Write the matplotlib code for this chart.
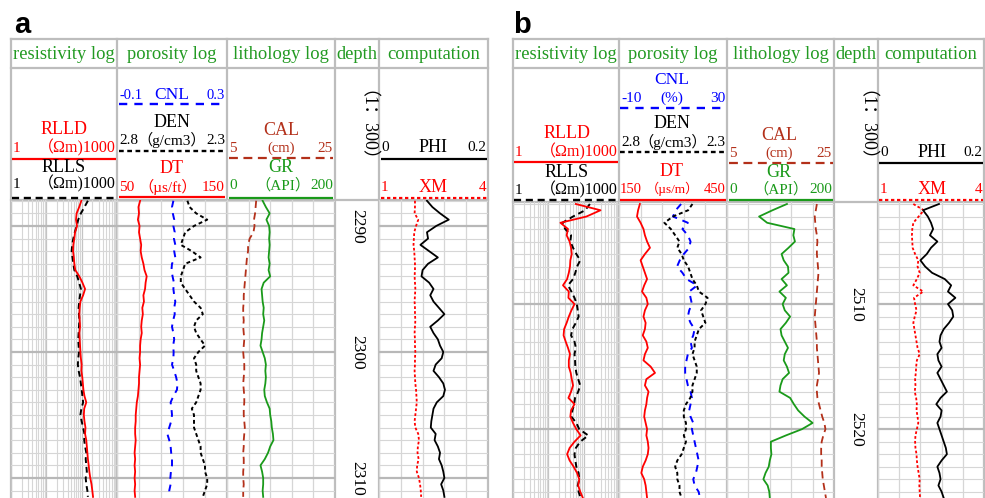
import numpy as np
import matplotlib
matplotlib.use('Agg')
import matplotlib.pyplot as plt
from matplotlib.ticker import MultipleLocator, LogLocator

plt.rcParams['font.family'] = ['Liberation Serif', 'Noto Sans CJK SC']

# ---------------- data: panel a ----------------
depth_a = np.arange(2288.0, 2311.6, 0.5)
rlld_a = [98, 85, 72, 69, 74, 65, 62, 58, 57, 60, 62, 66, 86, 105, 125, 110,
          92, 88, 86, 88, 90, 86, 88, 90, 92, 95, 100, 98, 104, 108, 112, 120,
          135, 118, 115, 120, 128, 125, 135, 140, 145, 150, 158, 165, 175, 190, 200, 210]
rlls_a = [150, 120, 95, 80, 72, 64, 58, 54, 52, 55, 58, 62, 75, 85, 95, 90,
          85, 82, 84, 86, 84, 82, 80, 82, 84, 80, 78, 82, 90, 95, 100, 105,
          110, 98, 92, 100, 110, 120, 118, 125, 135, 130, 135, 140, 130, 135, 145, 150]
dt_a = [71, 69.5, 70, 69, 70.5, 70, 71, 72, 71.5, 72.5, 74, 75, 77, 76, 75.5, 74,
        74.5, 73, 73.5, 72.5, 72, 72.5, 71.5, 71, 71, 70.5, 71, 70.5, 70, 70, 69.5, 69,
        68, 67.5, 67, 67, 66.5, 66.5, 67, 66.5, 66, 66.5, 66, 66.5, 66, 66.5, 66, 66.5]
cnl_a = [0.105, 0.100, 0.103, 0.108, 0.105, 0.110, 0.107, 0.112, 0.108, 0.112, 0.100, 0.098,
         0.102, 0.107, 0.105, 0.108, 0.112, 0.108, 0.110, 0.104, 0.100, 0.105, 0.108, 0.104,
         0.106, 0.105, 0.100, 0.108, 0.115, 0.120, 0.118, 0.105, 0.095, 0.098, 0.100, 0.097,
         0.090, 0.083, 0.090, 0.095, 0.097, 0.100, 0.100, 0.096, 0.094, 0.095, 0.090, 0.092]
den_a = [2.48, 2.47, 2.44, 2.39, 2.45, 2.49, 2.50, 2.51, 2.46, 2.42, 2.49, 2.50,
         2.51, 2.51, 2.49, 2.47, 2.45, 2.42, 2.41, 2.44, 2.45, 2.44, 2.42, 2.40,
         2.43, 2.45, 2.44, 2.44, 2.43, 2.42, 2.42, 2.43, 2.44, 2.46, 2.45, 2.45,
         2.45, 2.44, 2.43, 2.42, 2.42, 2.41, 2.40, 2.40, 2.39, 2.39, 2.40, 2.41]
cal_a = [10.4, 10.3, 10.2, 10.0, 10.1, 9.9, 9.2, 8.9, 8.9, 8.7, 8.6, 8.5,
         8.4, 8.3, 8.2, 8.1, 8.1, 8.0, 8.0, 8.1, 8.0, 8.1, 8.2, 8.1,
         8.0, 8.1, 8.2, 8.2, 8.1, 8.0, 8.1, 8.2, 8.2, 8.1, 8.1, 8.2,
         8.3, 8.2, 8.1, 8.1, 8.0, 8.1, 8.1, 8.0, 8.0, 8.1, 8.0, 8.0]
gr_a = [66, 72, 79, 73, 78, 79, 78, 79, 78, 77, 79, 77, 80, 68, 64, 65,
        66, 68, 67, 69, 67, 65, 64, 62, 66, 70, 72, 71, 72, 71, 69, 70,
        74, 79, 80, 82, 83, 85, 86, 80, 76, 70, 62, 65, 67, 67, 66, 67]
phi_a = [0.088, 0.098, 0.112, 0.128, 0.105, 0.088, 0.090, 0.076, 0.092, 0.108, 0.090, 0.080,
         0.078, 0.092, 0.100, 0.094, 0.100, 0.110, 0.120, 0.108, 0.094, 0.100, 0.108, 0.112,
         0.118, 0.115, 0.104, 0.100, 0.110, 0.118, 0.121, 0.118, 0.106, 0.100, 0.098, 0.096,
         0.095, 0.104, 0.102, 0.108, 0.112, 0.110, 0.115, 0.118, 0.120, 0.114, 0.118, 0.120]
xm_a = [1.99, 1.99, 1.98, 2.08, 2.02, 1.97, 1.96, 1.95, 1.97, 1.98, 1.99, 1.99,
        1.98, 1.99, 2.00, 1.99, 1.98, 1.99, 1.99, 2.00, 1.99, 1.98, 1.99, 1.99,
        2.00, 1.99, 1.99, 1.98, 1.99, 2.00, 2.02, 2.03, 2.04, 2.02, 2.00, 1.98,
        2.00, 2.08, 2.10, 2.07, 2.06, 2.09, 2.05, 2.04, 2.10, 2.13, 2.15, 2.16]
ticks_a = [2290, 2300, 2310]

# ---------------- data: panel b ----------------
depth_b = np.arange(2502.0, 2525.6, 0.5)
rlld_b = [60, 300, 120, 22, 36, 33, 40, 44, 46, 42, 41, 38, 34, 26, 38, 37,
          55, 45, 38, 33, 28, 27, 31, 36, 41, 38, 38, 43, 46, 50, 44, 37,
          55, 44, 42, 50, 62, 82, 55, 40, 34, 40, 52, 65, 75, 70, 80, 95]
rlls_b = [150, 110, 50, 25, 30, 44, 42, 50, 62, 80, 65, 58, 50, 36, 45, 55,
          64, 68, 72, 60, 48, 44, 55, 60, 55, 57, 58, 62, 70, 80, 70, 57,
          54, 48, 45, 62, 75, 135, 80, 60, 55, 58, 62, 72, 75, 68, 72, 82]
dt_b = [208, 203, 200, 210, 218, 222, 228, 236, 222, 210, 216, 222, 228, 220, 214, 226,
        230, 222, 218, 224, 222, 216, 226, 230, 222, 218, 238, 250, 226, 222, 232, 228,
        226, 222, 220, 224, 228, 226, 230, 232, 230, 224, 216, 212, 220, 224, 226, 228]
cnl_b = [13.0, 11.0, 10.0, 15.5, 13.5, 15.5, 16.5, 16.0, 14.0, 12.5, 11.5, 13.5,
         15.0, 19.0, 16.0, 16.5, 17.0, 16.0, 15.5, 16.5, 18.0, 17.5, 16.5, 17.0,
         15.5, 15.0, 14.5, 14.5, 15.0, 15.5, 16.5, 17.0, 16.5, 16.0, 16.5, 17.5,
         17.0, 17.5, 18.0, 18.5, 19.0, 19.5, 19.0, 18.5, 17.5, 18.0, 19.5, 20.0]
den_b = [2.46, 2.48, 2.55, 2.59, 2.56, 2.54, 2.52, 2.53, 2.51, 2.50, 2.48, 2.47,
         2.46, 2.44, 2.43, 2.39, 2.40, 2.42, 2.41, 2.40, 2.43, 2.44, 2.45, 2.45,
         2.46, 2.45, 2.44, 2.44, 2.45, 2.46, 2.46, 2.47, 2.49, 2.50, 2.50, 2.49,
         2.49, 2.50, 2.49, 2.50, 2.51, 2.53, 2.54, 2.53, 2.53, 2.52, 2.52, 2.51]
cal_b = [21.8, 21.6, 21.4, 21.5, 21.6, 21.8, 21.9, 21.8, 21.8, 21.9, 22.0, 22.1,
         22.0, 21.9, 21.8, 21.7, 21.6, 21.5, 21.4, 21.5, 21.6, 21.7, 21.8, 21.8,
         21.9, 22.0, 22.1, 22.2, 22.0, 21.8, 21.8, 21.9, 22.2, 22.5, 22.8, 23.2,
         23.4, 23.0, 22.7, 22.6, 22.6, 22.7, 22.7, 22.8, 22.9, 23.1, 23.3, 23.5]
gr_b = [112, 85, 60, 75, 126, 124, 127, 115, 102, 106, 114, 115, 102, 112, 98, 110,
        104, 108, 118, 110, 100, 102, 108, 114, 108, 106, 112, 116, 104, 100, 98, 118,
        125, 133, 145, 160, 140, 110, 82, 82, 83, 80, 78, 72, 68, 76, 79, 80]
phi_b = [0.115, 0.085, 0.094, 0.100, 0.104, 0.098, 0.112, 0.100, 0.092, 0.080, 0.089, 0.102,
         0.126, 0.138, 0.132, 0.146, 0.132, 0.140, 0.142, 0.134, 0.124, 0.118, 0.116, 0.120,
         0.112, 0.114, 0.120, 0.112, 0.118, 0.124, 0.130, 0.118, 0.110, 0.120, 0.118, 0.112,
         0.116, 0.120, 0.124, 0.128, 0.130, 0.120, 0.112, 0.116, 0.118, 0.114, 0.120, 0.124]
xm_b = [2.00, 2.30, 2.15, 2.00, 1.97, 1.96, 1.97, 1.98, 2.05, 2.14, 2.12, 2.18,
        2.10, 2.00, 2.28, 2.02, 2.05, 2.09, 2.04, 2.00, 2.03, 2.06, 2.09, 2.12,
        2.18, 2.10, 2.08, 2.07, 2.05, 2.06, 2.04, 2.08, 2.10, 2.09, 2.12, 2.14,
        2.10, 2.06, 2.05, 2.06, 2.09, 2.10, 2.12, 2.15, 2.18, 2.17, 2.18, 2.19]
ticks_b = [2510, 2520]

track_titles = ['resistivity log', 'porosity log', 'lithology log', 'depth', 'computation']

# ---------------- styles ----------------
W, H = 985, 498
GRID = '#d6d6d6'
FRAME = '#bdbdbd'
TITLE = '#229a22'
RED, BLUE, GREEN, BROWN = '#ff0000', '#0000ff', '#1a9a1a', '#b3301a'

sty = {
    'RLLD': dict(color=RED, lw=1.3),
    'RLLS': dict(color='black', lw=1.4, dashes=(3, 2)),
    'CNL': dict(color=BLUE, lw=1.4, dashes=(3.5, 3)),
    'DEN': dict(color='black', lw=1.4, dashes=(2, 1.5)),
    'DT': dict(color=RED, lw=1.3),
    'CAL': dict(color=BROWN, lw=1.3, dashes=(4, 2.5)),
    'GR': dict(color=GREEN, lw=1.3),
    'PHI': dict(color='black', lw=1.3),
    'XM': dict(color=RED, lw=1.3, dashes=(1.5, 1.2)),
}

fig = plt.figure(figsize=(W / 100, H / 100), dpi=100)
bg = fig.add_axes([0, 0, 1, 1])
bg.set_xlim(0, W)
bg.set_ylim(H, 0)
bg.axis('off')


def rect(x0, x1, y0, y1):
    return [x0 / W, 1 - y1 / H, (x1 - x0) / W, (y1 - y0) / H]


def new_ax(x0, x1, y0, y1, dtop, dbot, xlim, log=False):
    ax = fig.add_axes(rect(x0, x1, y0, y1))
    ax.patch.set_alpha(0)
    if log:
        ax.set_xscale('log')
    ax.set_xlim(*xlim)
    ax.set_ylim(dbot, dtop)
    for s in ax.spines.values():
        s.set_visible(False)
    ax.tick_params(which='both', length=0, labelleft=False, labelbottom=False,
                   labelright=False, labeltop=False)
    return ax


def grid_ax(x0, x1, y0, y1, dtop, dbot, log=False):
    if log:
        g = new_ax(x0, x1, y0, y1, dtop, dbot, (1, 1000), log=True)
        g.xaxis.set_major_locator(LogLocator(base=10, numticks=10))
        g.xaxis.set_minor_locator(LogLocator(base=10, subs=range(2, 10), numticks=40))
        g.grid(which='minor', axis='x', color=GRID, lw=0.8)
        g.grid(which='major', axis='x', color='#c4c4c4', lw=0.9)
    else:
        g = new_ax(x0, x1, y0, y1, dtop, dbot, (0, 5))
        g.xaxis.set_major_locator(MultipleLocator(1))
        g.grid(which='major', axis='x', color=GRID, lw=0.9)
    g.yaxis.set_major_locator(MultipleLocator(10))
    g.yaxis.set_minor_locator(MultipleLocator(1))
    g.grid(which='minor', axis='y', color=GRID, lw=0.8)
    g.grid(which='major', axis='y', color='#b8b8b8', lw=1.6)
    g.set_axisbelow(True)
    return g


def curve(x0, x1, y0, y1, dtop, dbot, xlim, vals, depth, name, log=False):
    ax = new_ax(x0, x1, y0, y1, dtop, dbot, xlim, log=log)
    ax.plot(vals, depth, **sty[name])
    return ax


def txt(x, y, s, color='black', size=11, ha='center', **kw):
    bg.text(x, y, s, color=color, fontsize=size, ha=ha, va='center', **kw)


def hline(x0, x1, y, name):
    st = dict(sty[name])
    st['lw'] = st['lw'] + 0.3
    bg.plot([x0, x1], [y, y], solid_capstyle='butt', **st)


def frame(xs, ydata):
    for x in xs:
        bg.plot([x, x], [39, H], color=FRAME, lw=1.6)
    for y in (39, 68, ydata):
        bg.plot([xs[0], xs[-1]], [y, y], color=FRAME, lw=1.6)
    for (a, b), t in zip(zip(xs[:-1], xs[1:]), track_titles):
        txt((a + b) / 2, 54, t, TITLE, 13.3)


def panel(xs, ydata, dtop, dbot, depth, d, ticks):
    res, por, lit, dep, com = [(xs[i], xs[i + 1]) for i in range(5)]
    y0, y1 = ydata, H
    grid_ax(res[0], res[1], y0, y1, dtop, dbot, log=True)
    for tr in (por, lit, com):
        grid_ax(tr[0], tr[1], y0, y1, dtop, dbot)
    curve(*res, y0, y1, dtop, dbot, (1, 1000), d['RLLS'], depth, 'RLLS', log=True)
    curve(*res, y0, y1, dtop, dbot, (1, 1000), d['RLLD'], depth, 'RLLD', log=True)
    curve(*por, y0, y1, dtop, dbot, d['DT_lim'], d['DT'], depth, 'DT')
    curve(*por, y0, y1, dtop, dbot, d['CNL_lim'], d['CNL'], depth, 'CNL')
    curve(*por, y0, y1, dtop, dbot, (2.8, 2.3), d['DEN'], depth, 'DEN')
    curve(*lit, y0, y1, dtop, dbot, (5, 25), d['CAL'], depth, 'CAL')
    curve(*lit, y0, y1, dtop, dbot, (0, 200), d['GR'], depth, 'GR')
    curve(*com, y0, y1, dtop, dbot, (1, 4), d['XM'], depth, 'XM')
    curve(*com, y0, y1, dtop, dbot, (0, 0.2), d['PHI'], depth, 'PHI')
    dax = new_ax(*dep, y0, y1, dtop, dbot, (0, 1))
    for t in ticks:
        dax.text(0.5, t, str(t), rotation=270, ha='center', va='center', fontsize=12.5)
    frame(xs, ydata)


# panel a
xs_a = [11, 117, 227, 335, 379, 488]
panel(xs_a, 200, 2287.94, 2311.59, depth_a,
      dict(RLLD=rlld_a, RLLS=rlls_a, DT=dt_a, DT_lim=(50, 150), CNL=cnl_a,
           CNL_lim=(-0.1, 0.3), DEN=den_a, CAL=cal_a, GR=gr_a, XM=xm_a, PHI=phi_a),
      ticks_a)

# panel b
xs_b = [513, 619, 727, 834, 878, 984]
panel(xs_b, 202, 2501.84, 2525.5, depth_b,
      dict(RLLD=rlld_b, RLLS=rlls_b, DT=dt_b, DT_lim=(150, 450), CNL=cnl_b,
           CNL_lim=(-10, 30), DEN=den_b, CAL=cal_b, GR=gr_b, XM=xm_b, PHI=phi_b),
      ticks_b)

# ---------------- headers: panel a ----------------
bg.text(14, 33, 'a', fontsize=21, fontweight='bold', family='Liberation Sans', va='baseline')
txt(64, 129, 'RLLD', RED, 13)
txt(13, 148, '1', RED, 11, ha='left')
txt(116, 148, '（Ωm)1000', RED, 11.5, ha='right')
hline(12, 116, 159, 'RLLD')
txt(64, 167, 'RLLS', 'black', 13)
txt(13, 184, '1', 'black', 11, ha='left')
txt(116, 184, '（Ωm)1000', 'black', 11.5, ha='right')
hline(12, 116, 198, 'RLLS')

txt(119, 95, '-0.1', BLUE, 10.5, ha='left')
txt(172, 95, 'CNL', BLUE, 12.5)
txt(225, 95, '0.3', BLUE, 10.5, ha='right')
hline(119, 225, 104, 'CNL')
txt(172, 122, 'DEN', 'black', 13)
txt(119, 140, '2.8', 'black', 11, ha='left')
txt(172, 140, '（g/cm3）', 'black', 11)
txt(225, 140, '2.3', 'black', 11, ha='right')
hline(119, 225, 151, 'DEN')
txt(172, 168, 'DT', RED, 13)
txt(119, 187, '50', RED, 11, ha='left')
txt(168, 187, '（µs/ft）', RED, 11)
txt(225, 187, '150', RED, 11, ha='right')
hline(119, 225, 197, 'DT')

txt(281, 130, 'CAL', BROWN, 13)
txt(229, 148, '5', BROWN, 11, ha='left')
txt(281, 148, '(cm)', BROWN, 10.5)
txt(333, 148, '25', BROWN, 11, ha='right')
hline(229, 333, 158, 'CAL')
txt(281, 167, 'GR', GREEN, 13)
txt(229, 185, '0', GREEN, 11, ha='left')
txt(283, 185, '（API）', GREEN, 11)
txt(333, 185, '200', GREEN, 11, ha='right')
hline(229, 333, 198, 'GR')

txt(357, 135, '（1：300）', 'black', 13, rotation=270)

txt(381, 147, '0', 'black', 11, ha='left')
txt(433, 147, 'PHI', 'black', 13)
txt(486, 147, '0.2', 'black', 11, ha='right')
hline(381, 487, 159, 'PHI')
txt(381, 187, '1', RED, 11, ha='left')
txt(433, 187, 'XM', RED, 13)
txt(486, 187, '4', RED, 11, ha='right')
hline(381, 487, 198, 'XM')

# ---------------- headers: panel b ----------------
bg.text(513, 33, 'b', fontsize=21, fontweight='bold', family='Liberation Sans', va='baseline')
txt(567, 133, 'RLLD', RED, 13)
txt(515, 152, '1', RED, 11, ha='left')
txt(618, 152, '（Ωm)1000', RED, 11.5, ha='right')
hline(514, 618, 162, 'RLLD')
txt(567, 172, 'RLLS', 'black', 13)
txt(515, 190, '1', 'black', 11, ha='left')
txt(618, 190, '（Ωm)1000', 'black', 11.5, ha='right')
hline(514, 618, 200, 'RLLS')

txt(672, 80, 'CNL', BLUE, 12.5)
txt(621, 98, '-10', BLUE, 11, ha='left')
txt(672, 98, '(%)', BLUE, 11)
txt(725, 98, '30', BLUE, 11, ha='right')
hline(620, 726, 108, 'CNL')
txt(672, 123, 'DEN', 'black', 13)
txt(621, 142, '2.8', 'black', 11, ha='left')
txt(673, 142, '（g/cm3）', 'black', 11)
txt(725, 142, '2.3', 'black', 11, ha='right')
hline(620, 726, 152, 'DEN')
txt(672, 171, 'DT', RED, 13)
txt(620, 189, '150', RED, 10.5, ha='left')
txt(673, 189, '（µs/m）', RED, 9.5)
txt(726, 189, '450', RED, 10.5, ha='right')
hline(620, 726, 200, 'DT')

txt(779, 135, 'CAL', BROWN, 13)
txt(729, 153, '5', BROWN, 11, ha='left')
txt(779, 153, '(cm)', BROWN, 10.5)
txt(832, 153, '25', BROWN, 11, ha='right')
hline(729, 833, 163, 'CAL')
txt(779, 172, 'GR', GREEN, 13)
txt(729, 189, '0', GREEN, 11, ha='left')
txt(781, 189, '（API）', GREEN, 11)
txt(832, 189, '200', GREEN, 11, ha='right')
hline(729, 833, 200, 'GR')

txt(856, 135, '（1：300）', 'black', 13, rotation=270)

txt(880, 152, '0', 'black', 11, ha='left')
txt(932, 152, 'PHI', 'black', 13)
txt(982, 152, '0.2', 'black', 11, ha='right')
hline(879, 983, 163, 'PHI')
txt(880, 189, '1', RED, 11, ha='left')
txt(932, 189, 'XM', RED, 13)
txt(982, 189, '4', RED, 11, ha='right')
hline(879, 983, 200, 'XM')

fig.savefig('out.png', dpi=100)
